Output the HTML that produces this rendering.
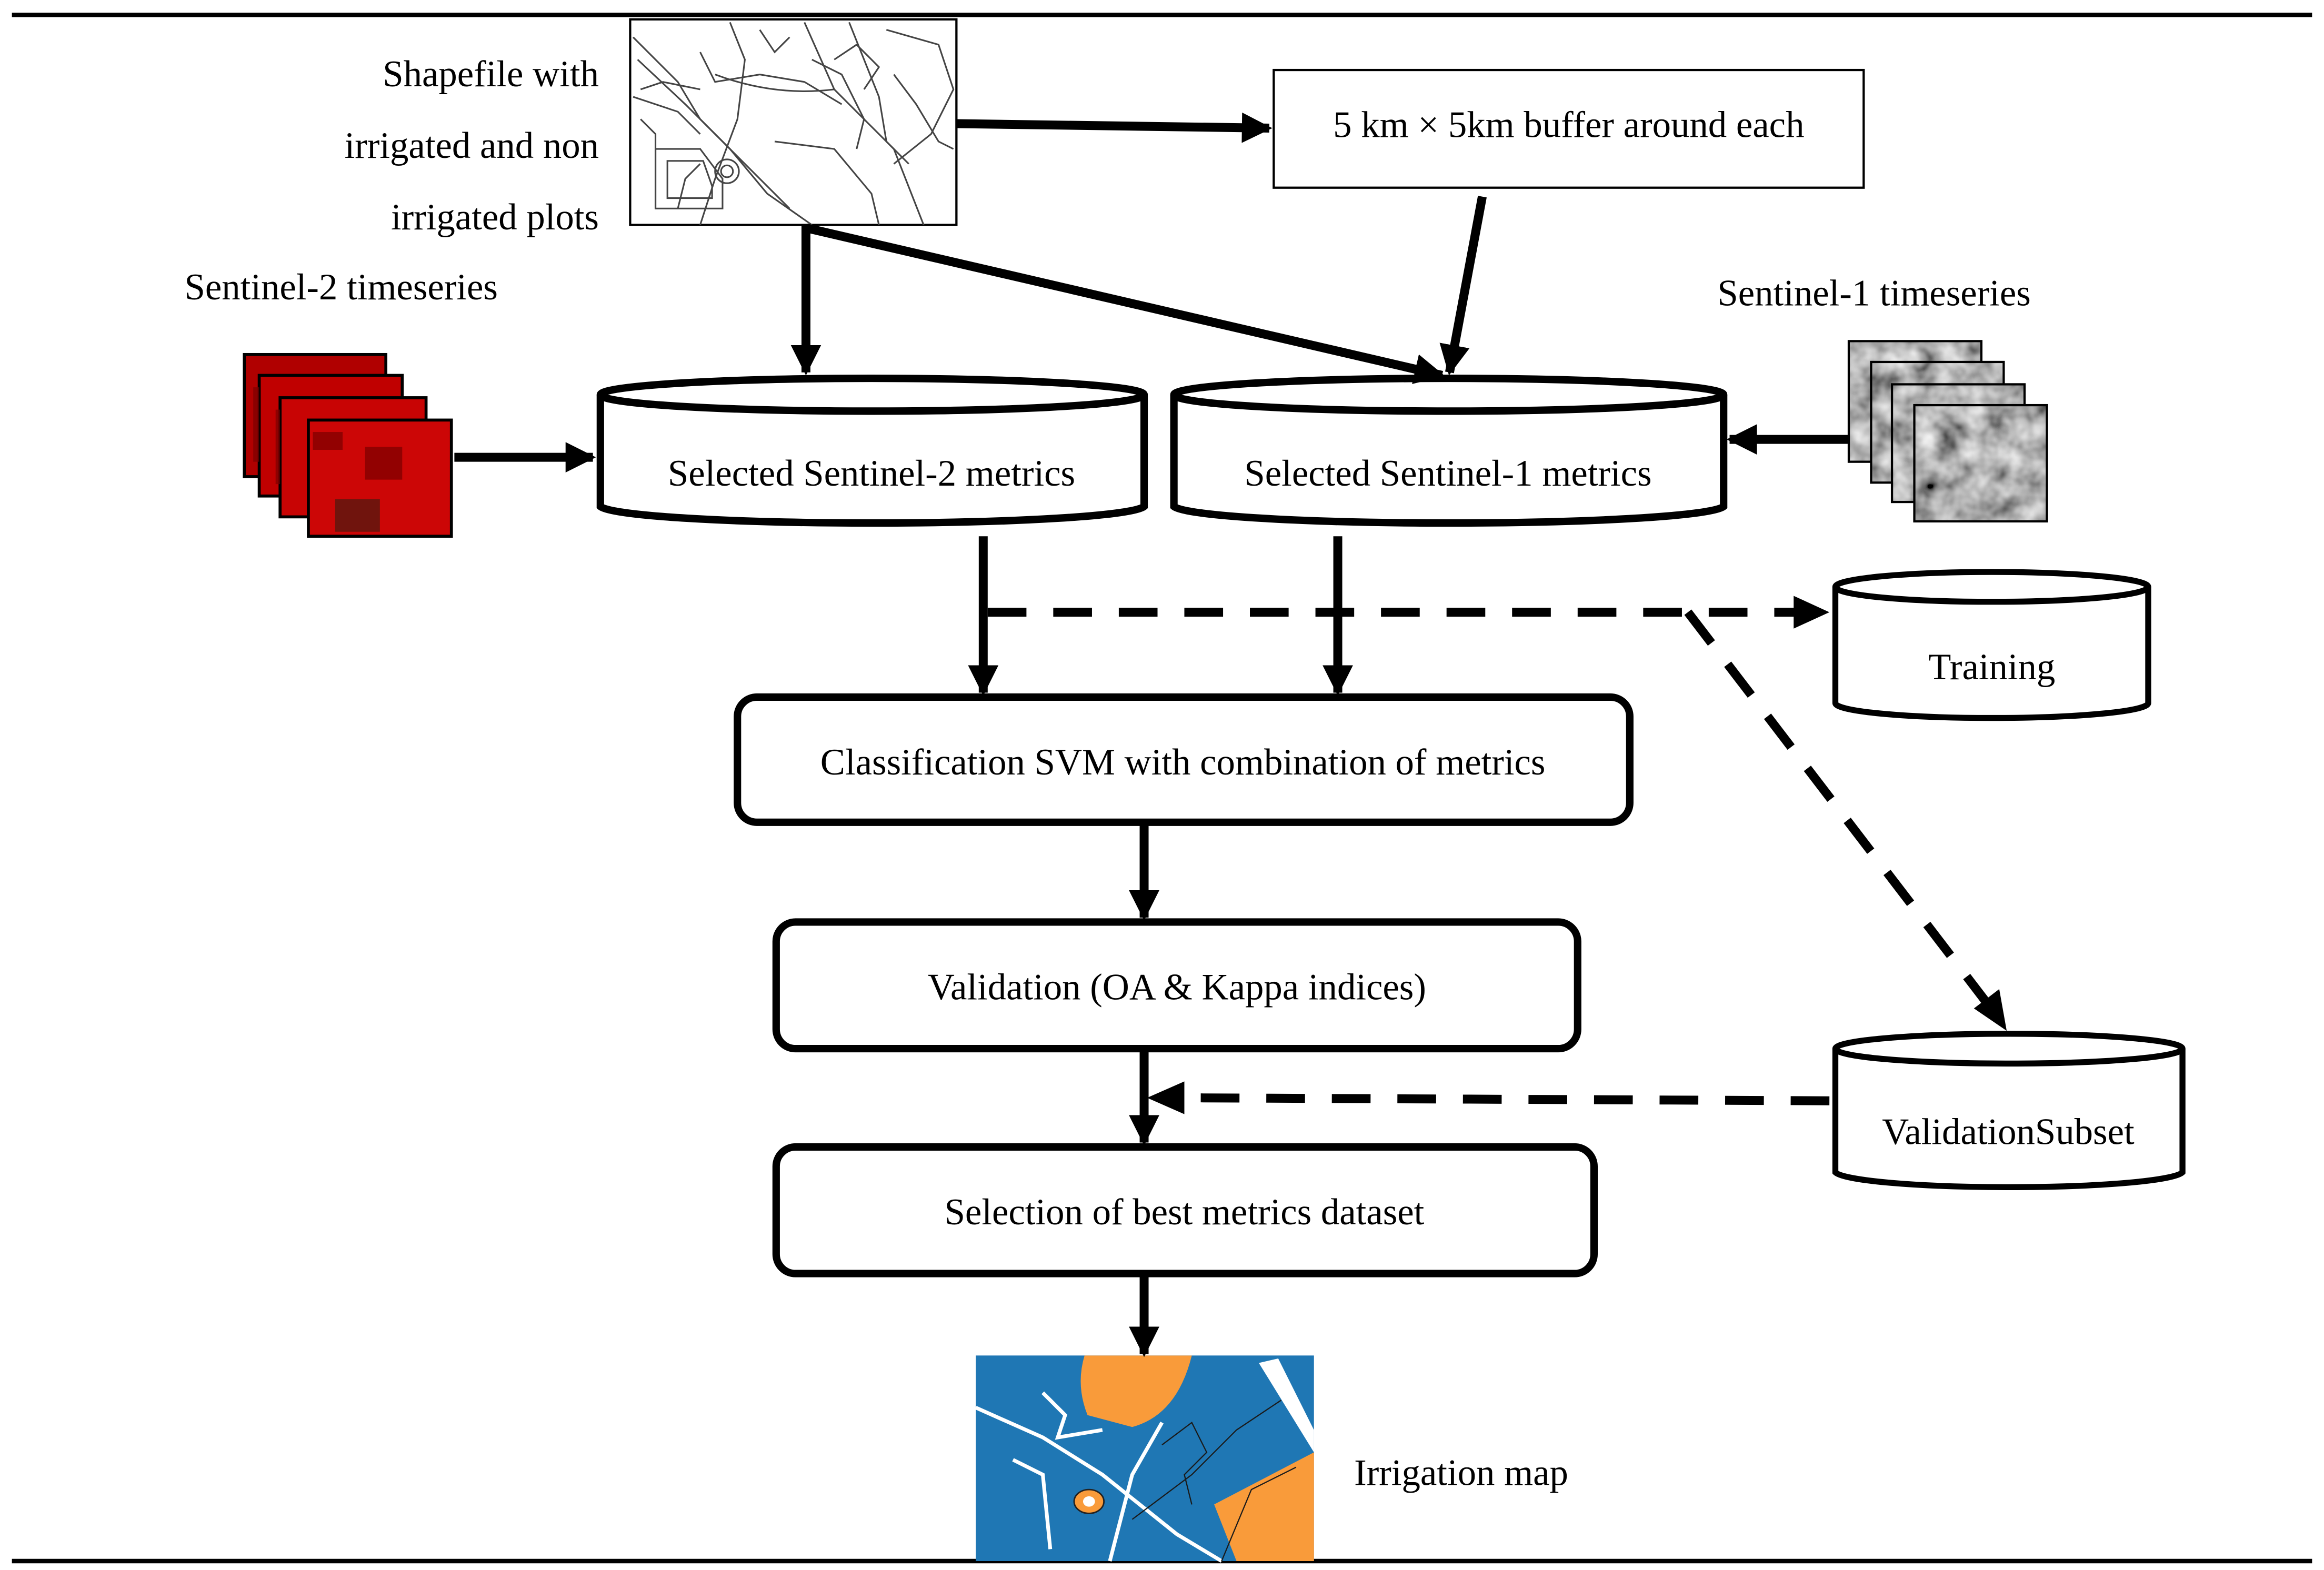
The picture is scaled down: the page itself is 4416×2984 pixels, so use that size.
<!DOCTYPE html>
<html><head><meta charset="utf-8"><style>
html,body{margin:0;padding:0;background:#fff;}
svg{display:block;}
text{font-family:"Liberation Serif",serif;font-size:25px;fill:#000;}
</style></head><body>
<svg width="4416" height="2984" viewBox="0 0 1560 1054" preserveAspectRatio="none" xmlns="http://www.w3.org/2000/svg">
<defs>
<marker id="ah" viewBox="0 0 10 10" refX="9" refY="5" markerWidth="3.4" markerHeight="3.4" orient="auto" markerUnits="strokeWidth">
<path d="M0,0 L10,5 L0,10 z" fill="#000"/></marker>
<filter id="noise" x="0" y="0" width="100%" height="100%" filterUnits="objectBoundingBox"><feTurbulence type="fractalNoise" baseFrequency="0.06" numOctaves="3" seed="4"/><feColorMatrix type="saturate" values="0"/><feComponentTransfer><feFuncR type="linear" slope="1.6" intercept="-0.35"/><feFuncG type="linear" slope="1.6" intercept="-0.35"/><feFuncB type="linear" slope="1.6" intercept="-0.35"/><feFuncA type="linear" slope="0" intercept="1"/></feComponentTransfer></filter>
</defs>
<rect width="1560" height="1054" fill="#fff"/>
<line x1="8" y1="10" x2="1552" y2="10" stroke="#000" stroke-width="3"/>
<line x1="8" y1="1048" x2="1552" y2="1048" stroke="#000" stroke-width="3"/>

<!-- shapefile image -->
<g>
<rect x="423" y="13" width="219" height="138" fill="#fff" stroke="#000" stroke-width="1.5"/>
<g fill="none" stroke="#444" stroke-width="1.1">
<path d="M425,25 L455,55 L470,80 L490,100 L515,130 L545,151"/>
<path d="M428,40 L460,70 L485,95 L530,140"/>
<path d="M425,65 L455,75 L470,90"/>
<path d="M470,35 L480,55 L510,50 L540,55 L565,70"/>
<path d="M480,50 Q520,65 560,60"/>
<path d="M490,15 L500,40 L495,80 L480,120 L470,151"/>
<path d="M540,15 L560,60 L600,100 L620,151"/>
<path d="M570,15 L590,65 L595,95 L610,110"/>
<path d="M595,20 L630,30 L640,60 L625,90 L600,110"/>
<path d="M440,100 L470,100 L485,120 L485,140 L440,140 z"/>
<path d="M448,108 L472,108 L478,125 L478,133 L448,133 z"/>
<circle cx="488" cy="115" r="8"/><circle cx="488" cy="115" r="4"/>
<path d="M545,40 L565,50 L580,80 L575,100"/>
<path d="M600,50 L615,70 L630,95 L640,100"/>
<path d="M430,80 L440,90 L440,140"/>
<path d="M520,95 L560,100 L585,130 L590,151"/>
<path d="M430,60 L445,55 L470,60"/>
<path d="M510,20 L520,35 L530,25"/>
<path d="M560,40 L575,30 L590,45 L580,60"/>
<path d="M455,140 L460,120 L470,110"/>
</g></g>
<text x="402" y="58" text-anchor="end">Shapefile with</text>
<text x="402" y="106" text-anchor="end">irrigated and non</text>
<text x="402" y="154" text-anchor="end">irrigated plots</text>
<text x="229" y="201" text-anchor="middle">Sentinel-2 timeseries</text>

<!-- red stack -->
<g stroke="#000" stroke-width="2">
<rect x="164" y="238" width="95" height="82" fill="#b00000"/>
<rect x="174" y="252" width="96" height="81" fill="#c00000"/>
<rect x="188" y="267" width="98" height="80" fill="#c80404"/>
<rect x="207" y="282" width="96" height="78" fill="#cc0606"/>
</g>
<g fill="#7a0000" opacity="0.7">
<rect x="210" y="290" width="20" height="12"/><rect x="245" y="300" width="25" height="22"/>
<rect x="225" y="335" width="30" height="22" fill="#4a1a10"/><rect x="170" y="260" width="4" height="50"/>
<rect x="185" y="275" width="3" height="50"/>
</g>

<!-- buffer box -->
<rect x="855" y="47" width="396" height="79" fill="#fff" stroke="#000" stroke-width="1.5"/>
<text x="1053" y="92" text-anchor="middle">5 km × 5km buffer around each</text>
<text x="1258" y="205" text-anchor="middle">Sentinel-1 timeseries</text>

<!-- gray stack -->
<g stroke="#000" stroke-width="1.5">
<rect x="1241" y="229" width="89" height="81" fill="#999" filter="url(#noise)"/>
<rect x="1241" y="229" width="89" height="81" fill="none"/>
<rect x="1256" y="243" width="89" height="81" fill="#999" filter="url(#noise)"/>
<rect x="1256" y="243" width="89" height="81" fill="none"/>
<rect x="1270" y="258" width="89" height="79" fill="#999" filter="url(#noise)"/>
<rect x="1270" y="258" width="89" height="79" fill="none"/>
<rect x="1285" y="272" width="89" height="78" fill="#999" filter="url(#noise)"/>
<rect x="1285" y="272" width="89" height="78" fill="none"/>
</g>

<!-- cylinders -->
<g fill="#fff" stroke="#000" stroke-width="5">
<path d="M403,265 L403,340 A183,12 0 0 0 768,340 L768,265"/>
<ellipse cx="585.5" cy="265" rx="182.5" ry="11"/>
<path d="M788,265 L788,340 A185,12 0 0 0 1157,340 L1157,265"/>
<ellipse cx="972.5" cy="265" rx="184.5" ry="11"/>
</g>
<g fill="#fff" stroke="#000" stroke-width="4">
<path d="M1232,394 L1232,472 A105,10 0 0 0 1442,472 L1442,394"/>
<ellipse cx="1337" cy="394" rx="105" ry="10"/>
<path d="M1232,704 L1232,787 A117,11 0 0 0 1465,787 L1465,704"/>
<ellipse cx="1348.5" cy="704" rx="116.5" ry="10"/>
</g>
<text x="585" y="326" text-anchor="middle">Selected Sentinel-2 metrics</text>
<text x="972" y="326" text-anchor="middle">Selected Sentinel-1 metrics</text>
<text x="1337" y="456" text-anchor="middle">Training</text>
<text x="1348" y="768" text-anchor="middle">ValidationSubset</text>

<!-- boxes -->
<g fill="#fff" stroke="#000" stroke-width="5">
<rect x="495" y="468" width="599" height="84" rx="13"/>
<rect x="521" y="619" width="538" height="85" rx="13"/>
<rect x="521" y="770" width="549" height="85" rx="13"/>
</g>
<text x="794" y="520" text-anchor="middle">Classification SVM with combination of metrics</text>
<text x="790" y="671" text-anchor="middle">Validation (OA &amp; Kappa indices)</text>
<text x="795" y="822" text-anchor="middle">Selection of best metrics dataset</text>

<!-- irrigation map -->
<g>
<rect x="655" y="910" width="227" height="138" fill="#1f77b4"/>
<path d="M728,910 L800,910 Q790,950 760,958 L730,950 Q722,930 728,910z" fill="#f99b3a"/>
<path d="M815,1010 L882,975 L882,1048 L830,1048z" fill="#f99b3a"/>
<path d="M845,915 L858,912 L882,960 L882,975z" fill="#fff"/>
<ellipse cx="731" cy="1008" rx="10" ry="8" fill="#f99b3a" stroke="#222"/>
<ellipse cx="731" cy="1008" rx="4" ry="3.5" fill="#fff"/>
<g fill="none" stroke="#fff" stroke-width="2.5">
<path d="M655,945 L700,965 L740,990 L790,1030 L820,1048"/>
<path d="M700,935 L715,950 L710,965 L740,960"/>
<path d="M780,955 L760,990 L745,1048"/>
<path d="M680,980 L700,990 L705,1040"/>
</g>
<g fill="none" stroke="#1a1a1a" stroke-width="0.8">
<path d="M780,970 L800,955 L810,975 L795,990 L800,1010"/>
<path d="M760,1020 L800,990 L830,960 L860,940"/>
<path d="M820,1048 L840,1000 L870,985"/>
</g>
</g>
<text x="909" y="997">Irrigation map</text>

<!-- solid arrows -->
<g stroke="#000" stroke-width="6" fill="none" marker-end="url(#ah)">
<line x1="642" y1="83" x2="852" y2="86"/>
<line x1="541" y1="151" x2="541" y2="250"/>
<line x1="541" y1="153" x2="968" y2="252"/>
<line x1="995" y1="132" x2="973" y2="250"/>
<line x1="305" y1="307" x2="398" y2="307"/>
<line x1="1241" y1="295" x2="1161" y2="295"/>
<line x1="660" y1="360" x2="660" y2="465"/>
<line x1="898" y1="360" x2="898" y2="465"/>
<line x1="768" y1="553" x2="768" y2="616"/>
<line x1="768" y1="705" x2="768" y2="767"/>
<line x1="768" y1="856" x2="768" y2="909"/>
</g>
<!-- dashed arrows -->
<g stroke="#000" stroke-width="6" fill="none" stroke-dasharray="26,18">
<line x1="663" y1="411" x2="1205" y2="411"/>
<line x1="1133" y1="411" x2="1335" y2="675"/>
<line x1="1228" y1="739" x2="795" y2="737"/>
</g>
<path d="M1228,411 L1204,400 L1204,422z" fill="#000"/>
<path d="M1347,692 L1325,677 L1342,664z" fill="#000"/>
<path d="M770,737 L795,726 L795,748z" fill="#000"/>
</svg>
</body></html>
